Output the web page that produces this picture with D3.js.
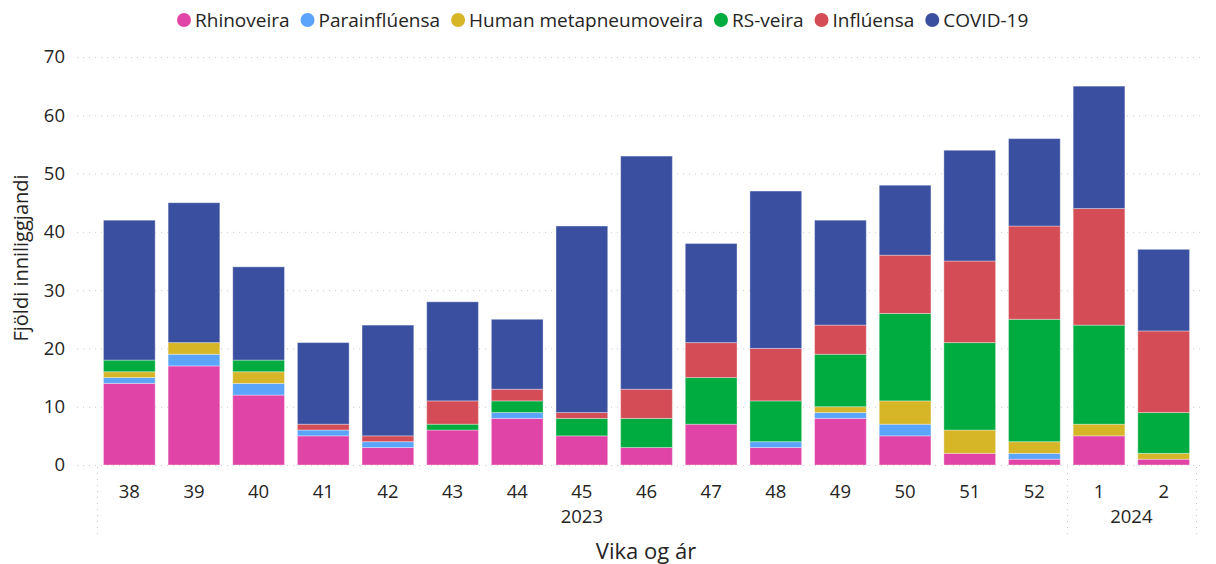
<!DOCTYPE html>
<html lang="is">
<head>
<meta charset="UTF-8">
<title>Fjöldi inniliggjandi</title>
<style>
    body { margin: 0; background: #ffffff; font-family: "Open Sans", "Noto Sans", sans-serif; }
    svg { display: block; }
    .tick-label { font-size: 18.5px; fill: #252423; }
</style>
</head>
<body>
<svg width="1216" height="564"></svg>
<script src="https://cdn.jsdelivr.net/npm/d3@7"></script>
<script>
    // Data
    const weeks = ["38", "39", "40", "41", "42", "43", "44", "45", "46", "47", "48", "49", "50", "51", "52", "1", "2"];
    const years = ["2023", "2023", "2023", "2023", "2023", "2023", "2023", "2023", "2023", "2023", "2023", "2023", "2023", "2023", "2023", "2024", "2024"];
    const seriesNames = ["Rhinoveira", "Parainflúensa", "Human metapneumoveira", "RS-veira", "Inflúensa", "COVID-19"];
    const rhino = [14, 17, 12, 5, 3, 6, 8, 5, 3, 7, 3, 8, 5, 2, 1, 5, 1];
    const parainfl = [1, 2, 2, 1, 1, 0, 1, 0, 0, 0, 1, 1, 2, 0, 1, 0, 0];
    const hmpv = [1, 2, 2, 0, 0, 0, 0, 0, 0, 0, 0, 1, 4, 4, 2, 2, 1];
    const rsv = [2, 0, 2, 0, 0, 1, 2, 3, 5, 8, 7, 9, 15, 15, 21, 17, 7];
    const influensa = [0, 0, 0, 1, 1, 4, 2, 1, 5, 6, 9, 5, 10, 14, 16, 20, 14];
    const covid = [24, 24, 16, 14, 19, 17, 12, 32, 40, 17, 27, 18, 12, 19, 15, 21, 14];
    const yTicks = [0, 10, 20, 30, 40, 50, 60, 70];

    const colors = ["#e044a7", "#5ba4fb", "#d6b526", "#00ab3f", "#d44c55", "#3a4fa0"];

    const svg = d3.select("svg");
    const plotLeft = 97, plotRight = 1196, plotTop = 57, plotBottom = 465;

    const rows = weeks.map((w, i) => ({
        key: i, week: w, year: years[i],
        "Rhinoveira": rhino[i], "Parainflúensa": parainfl[i],
        "Human metapneumoveira": hmpv[i], "RS-veira": rsv[i],
        "Inflúensa": influensa[i], "COVID-19": covid[i]
    }));

    const x = d3.scaleBand()
        .domain(rows.map(d => d.key))
        .range([plotLeft, plotRight])
        .paddingInner(0.2)
        .paddingOuter(0.1);

    const y = d3.scaleLinear().domain([0, 70]).range([plotBottom, plotTop]);
    const color = d3.scaleOrdinal().domain(seriesNames).range(colors);

    // gridlines
    svg.append("g")
        .selectAll("line")
        .data(yTicks)
        .join("line")
        .attr("x1", 77).attr("x2", plotRight + 4)
        .attr("y1", d => y(d) + 0.5).attr("y2", d => y(d) + 0.5)
        .attr("stroke", "#c8c8c8")
        .attr("stroke-width", 1)
        .attr("stroke-dasharray", "1,5");

    // y tick labels
    svg.append("g")
        .selectAll("text")
        .data(yTicks)
        .join("text")
        .attr("class", "tick-label")
        .attr("x", 65)
        .attr("y", d => y(d))
        .attr("dy", "0.35em")
        .attr("text-anchor", "end")
        .text(d => d);

    // stacked bars
    const stack = d3.stack().keys(seriesNames)(rows);
    svg.append("g")
        .selectAll("g")
        .data(stack)
        .join("g")
        .attr("fill", d => color(d.key))
        .selectAll("rect")
        .data(d => d.filter(s => s[1] - s[0] > 0))
        .join("rect")
        .attr("x", d => x(d.data.key))
        .attr("y", d => y(d[1]))
        .attr("width", x.bandwidth())
        .attr("height", d => y(d[0]) - y(d[1]))
        .attr("stroke", "#ffffff")
        .attr("stroke-opacity", 0.35)
        .attr("stroke-width", 1);

    // week labels
    svg.append("g")
        .selectAll("text")
        .data(rows)
        .join("text")
        .attr("class", "tick-label")
        .attr("x", d => x(d.key) + x.bandwidth() / 2)
        .attr("y", 492)
        .attr("dy", "0.35em")
        .attr("text-anchor", "middle")
        .text(d => d.week);

    // year groups
    const yearGroups = d3.groups(rows, d => d.year).map(([yr, r]) => {
        const x0 = x(r[0].key) - x.step() * x.paddingInner() / 2;
        const x1 = x(r[r.length - 1].key) + x.bandwidth() + x.step() * x.paddingInner() / 2;
        return { year: yr, x0: x0, x1: x1 };
    });
    yearGroups[0].x0 = plotLeft;
    yearGroups[yearGroups.length - 1].x1 = plotRight;

    svg.append("g")
        .selectAll("text")
        .data(yearGroups)
        .join("text")
        .attr("class", "tick-label")
        .attr("x", d => (d.x0 + d.x1) / 2)
        .attr("y", 517)
        .attr("dy", "0.35em")
        .attr("text-anchor", "middle")
        .text(d => d.year);

    const seps = [plotLeft].concat(yearGroups.map(d => d.x1));
    svg.append("g")
        .selectAll("line")
        .data(seps)
        .join("line")
        .attr("x1", d => Math.round(d) + 0.5).attr("x2", d => Math.round(d) + 0.5)
        .attr("y1", 467).attr("y2", 536)
        .attr("stroke", "#c8c8c8")
        .attr("stroke-dasharray", "1,5");

    // axis titles
    svg.append("text")
        .attr("x", 646)
        .attr("y", 551)
        .attr("dy", "0.35em")
        .attr("text-anchor", "middle")
        .attr("font-size", "22px")
        .attr("fill", "#252423")
        .text("Vika og ár");

    svg.append("text")
        .attr("transform", "translate(21,258) rotate(-90)")
        .attr("dy", "0.35em")
        .attr("text-anchor", "middle")
        .attr("font-size", "20px")
        .attr("fill", "#252423")
        .text("Fjöldi inniliggjandi");

    // legend
    const legend = svg.append("g").attr("transform", "translate(177,20)");
    let lx = 0;
    seriesNames.forEach((name, i) => {
        const g = legend.append("g").attr("transform", `translate(${lx},0)`);
        g.append("circle").attr("cx", 7).attr("cy", 0).attr("r", 7).attr("fill", colors[i]);
        const t = g.append("text")
            .attr("x", 18)
            .attr("dy", "0.35em")
            .attr("font-size", "19px")
            .attr("fill", "#252423")
            .text(name);
        lx += 18 + t.node().getComputedTextLength() + 11;
    });
</script>
</body>
</html>
